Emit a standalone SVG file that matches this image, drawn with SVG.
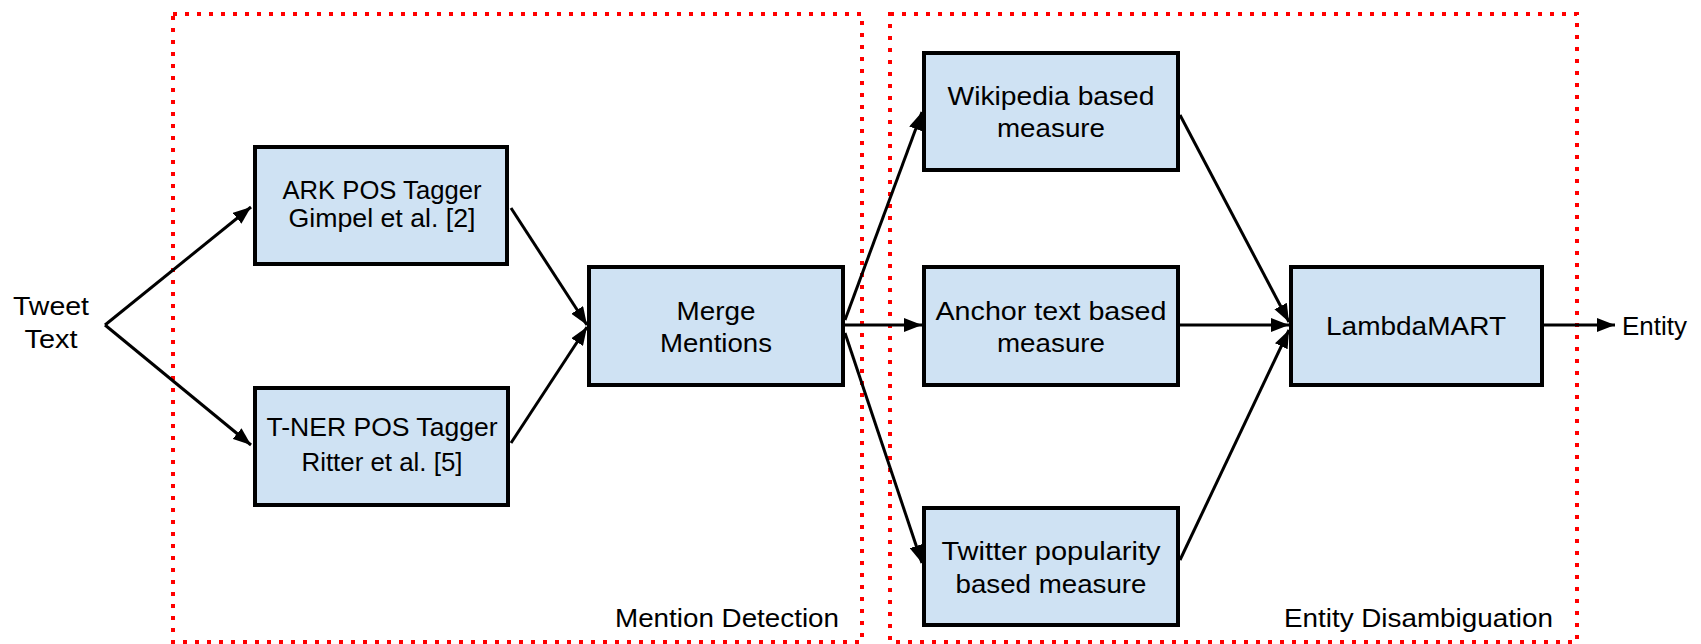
<svg xmlns="http://www.w3.org/2000/svg" width="1701" height="644" viewBox="0 0 1701 644">
<style>
.grp{fill:none;stroke:#ff0000;stroke-width:4;stroke-dasharray:4 8}
.box{fill:#cfe2f3;stroke:#000;stroke-width:4}
.t{font-family:"Liberation Sans",Arial,sans-serif;font-size:25px;fill:#000;text-anchor:middle}
.l{font-family:"Liberation Sans",Arial,sans-serif;font-size:25px;fill:#000}
.e{fill:none;stroke:#000;stroke-width:3}
</style>
<defs>
<marker id="ah" markerUnits="userSpaceOnUse" markerWidth="19" markerHeight="14" refX="18" refY="7" orient="auto">
<path d="M0,0 L18,7 L0,14 z" fill="#000"/>
</marker>
</defs>
<rect width="1701" height="644" fill="#fff"/>
<g id="group-mention-detection">
<rect class="grp" x="173" y="14" width="689" height="628"/>
<text class="l" x="839" y="627" text-anchor="end" textLength="224" lengthAdjust="spacingAndGlyphs">Mention Detection</text>
</g>
<g id="group-entity-disambiguation">
<rect class="grp" x="890" y="14" width="687" height="628"/>
<text class="l" x="1553" y="627" text-anchor="end" textLength="269" lengthAdjust="spacingAndGlyphs">Entity Disambiguation</text>
</g>
<g id="connectors">
<path class="e" d="M105,325 L251,207" marker-end="url(#ah)"/>
<path class="e" d="M105,325 L251,445" marker-end="url(#ah)"/>
<path class="e" d="M511,208 L587,325" marker-end="url(#ah)"/>
<path class="e" d="M511,443 L587,327" marker-end="url(#ah)"/>
<path class="e" d="M845,320 L922,112" marker-end="url(#ah)"/>
<path class="e" d="M845,325 L922,325" marker-end="url(#ah)"/>
<path class="e" d="M845,333 L922,563" marker-end="url(#ah)"/>
<path class="e" d="M1180,115 L1289,322" marker-end="url(#ah)"/>
<path class="e" d="M1180,325 L1289,325" marker-end="url(#ah)"/>
<path class="e" d="M1180,560 L1289,330" marker-end="url(#ah)"/>
<path class="e" d="M1544,325 L1615,325" marker-end="url(#ah)"/>
</g>
<g id="tweet-text">
<text class="t" x="51" y="315" textLength="76" lengthAdjust="spacingAndGlyphs">Tweet</text>
<text class="t" x="51" y="348" textLength="53" lengthAdjust="spacingAndGlyphs">Text</text>
</g>
<g id="ark">
<rect class="box" x="255" y="147" width="252" height="117"/>
<text class="t" x="382" y="199" textLength="199" lengthAdjust="spacingAndGlyphs">ARK POS Tagger</text>
<text class="t" x="382" y="227" textLength="187" lengthAdjust="spacingAndGlyphs">Gimpel et al. [2]</text>
</g>
<g id="tner">
<rect class="box" x="255" y="388" width="253" height="117"/>
<text class="t" x="382" y="436" textLength="231" lengthAdjust="spacingAndGlyphs">T-NER POS Tagger</text>
<text class="t" x="382" y="471" textLength="161" lengthAdjust="spacingAndGlyphs">Ritter et al. [5]</text>
</g>
<g id="merge">
<rect class="box" x="589" y="267" width="254" height="118"/>
<text class="t" x="716" y="320" textLength="79" lengthAdjust="spacingAndGlyphs">Merge</text>
<text class="t" x="716" y="352" textLength="112" lengthAdjust="spacingAndGlyphs">Mentions</text>
</g>
<g id="wikipedia">
<rect class="box" x="924" y="53" width="254" height="117"/>
<text class="t" x="1051" y="105" textLength="207" lengthAdjust="spacingAndGlyphs">Wikipedia based</text>
<text class="t" x="1051" y="137" textLength="108" lengthAdjust="spacingAndGlyphs">measure</text>
</g>
<g id="anchor">
<rect class="box" x="924" y="267" width="254" height="118"/>
<text class="t" x="1051" y="320" textLength="231" lengthAdjust="spacingAndGlyphs">Anchor text based</text>
<text class="t" x="1051" y="352" textLength="108" lengthAdjust="spacingAndGlyphs">measure</text>
</g>
<g id="twitter">
<rect class="box" x="924" y="508" width="254" height="117"/>
<text class="t" x="1051" y="560" textLength="219" lengthAdjust="spacingAndGlyphs">Twitter popularity</text>
<text class="t" x="1051" y="593" textLength="191" lengthAdjust="spacingAndGlyphs">based measure</text>
</g>
<g id="lambdamart">
<rect class="box" x="1291" y="267" width="251" height="118"/>
<text class="t" x="1416" y="335" textLength="180" lengthAdjust="spacingAndGlyphs">LambdaMART</text>
</g>
<g id="entity">
<text class="l" x="1622" y="335" textLength="65" lengthAdjust="spacingAndGlyphs">Entity</text>
</g>
</svg>
